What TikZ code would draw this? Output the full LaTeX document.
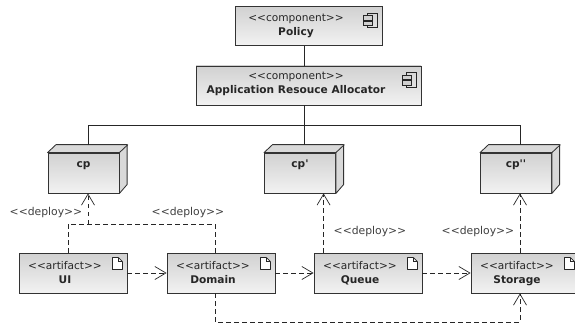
\documentclass[tikz,border=0pt]{standalone}
\usepackage{fontspec}
\setmainfont{DejaVu Sans}
\usepackage{tikz}
\usetikzlibrary{calc}
\usetikzlibrary{arrows.meta}
\usetikzlibrary{positioning}
\definecolor{boxtop}{gray}{0.82}
\definecolor{boxbot}{gray}{0.95}
\tikzstyle{umlbox}=[draw=black!80,line width=0.85pt,top color=boxtop,bottom color=boxbot,
                    minimum height=39pt,inner sep=0]
\tikzstyle{arti}=[umlbox,minimum width=108pt,minimum height=40pt]
\tikzstyle{cube}=[umlbox,minimum width=71pt,minimum height=40pt]
\tikzstyle{boxlabel}=[align=center,inner sep=0,text=black!85,font=\fontsize{10.6}{14}\selectfont]
\tikzstyle{dep}=[dash pattern=on 4.5pt off 3.5pt,line width=0.75pt,draw=black!85]
\tikzstyle{deparrow}=[dep,-{Straight Barb[length=11pt,width=13pt,line width=0.7pt]}]
\tikzstyle{wire}=[line width=0.75pt,draw=black!85]
\tikzstyle{deplabel}=[text=black!75,inner sep=0,font=\fontsize{10.8}{12}\selectfont]
\tikzstyle{icon}=[line width=0.7pt,draw=black!85]
\newcommand{\icomp}[1]{%
  \draw [icon] ($(#1.north east)+(-15,7)$) rectangle ++(10,14.5);
  \draw [icon,fill=boxtop] ($(#1.north east)+(-19,9.5)$) rectangle ++(9,4.5);
  \draw [icon,fill=boxtop] ($(#1.north east)+(-19,15)$) rectangle ++(9,4.5);
}
\newcommand{\iart}[1]{%
  \draw [icon,fill=white,line join=round] ($(#1.north east)+(-15,5)$) -- ++(6,0) -- ++(4,4) -- ++(0,8) -- ++(-10,0) -- cycle;
  \draw [icon] ($(#1.north east)+(-9,5)$) -- ++(0,4) -- ++(4,0);
}
\newcommand{\icube}[1]{%
  \draw [line width=0.85pt,draw=black!80,fill=black!15,line join=round] (#1.north west) -- ++(8.5,-8) -- ++(71,0) -- ++(0,40) -- (#1.south east) -- (#1.north east) -- cycle;
  \draw [line width=0.85pt,draw=black!80] (#1.north east) -- ++(8.5,-8);
}
\begin{document}
\begin{tikzpicture}[x=1pt,y=-1pt]
\useasboundingbox (0,0) rectangle (575,326);
\clip (0,0) rectangle (575,326);
\node [umlbox,minimum width=147pt] (policy) at (308.5,26) {};
\node [umlbox,minimum width=225pt] (alloc) at (308.5,85.5) {};
\node [cube] (cp) at (83.5,173) {};
\node [cube] (cpa) at (300,173) {};
\node [cube] (cpb) at (516,173) {};
\node [arti] (ui) at (73,273) {};
\node [arti] (domain) at (221,273) {};
\node [arti] (queue) at (368,273) {};
\node [arti] (storage) at (525,273) {};
\node [boxlabel] (policylabel) at ($(policy)+(-12.5,0.5)$) {<{}<component>{}>\\\textbf{Policy}\strut};
\node [boxlabel] (alloclabel) at ($(alloc)+(-12.5,-0.5)$) {<{}<component>{}>\\\textbf{Application Resouce Allocator}\strut};
\node [boxlabel,anchor=base] (cplabel) at ($(cp)+(0,-5.5)$) {\textbf{cp}};
\node [boxlabel,anchor=base] (cpalabel) at ($(cpa)+(0,-5.5)$) {\textbf{cp\textquotesingle}};
\node [boxlabel,anchor=base] (cpblabel) at ($(cpb)+(0,-5.5)$) {\textbf{cp\textquotesingle\textquotesingle}};
\node [boxlabel] (uilabel) at ($(ui)+(-8,2)$) {<{}<artifact>{}>\\\textbf{UI}\strut};
\node [boxlabel] (domainlabel) at ($(domain)+(-8,2)$) {<{}<artifact>{}>\\\textbf{Domain}\strut};
\node [boxlabel] (queuelabel) at ($(queue)+(-8,2)$) {<{}<artifact>{}>\\\textbf{Queue}\strut};
\node [boxlabel] (storagelabel) at ($(storage)+(-8,2)$) {<{}<artifact>{}>\\\textbf{Storage}\strut};
\icomp{policy}
\icomp{alloc}
\icube{cp}
\icube{cpa}
\icube{cpb}
\iart{ui}
\iart{domain}
\iart{queue}
\iart{storage}
\coordinate (B1) at (88,145);
\coordinate (B2) at (304,145);
\coordinate (B3) at (520,145);
\coordinate (T1) at (88,125);
\coordinate (T2) at (304,125);
\coordinate (T3) at (520,125);
\coordinate (J1) at (88,224);
\coordinate (D1) at ($(domain.north)+(-6,0)$);
\coordinate (D2) at ($(domain.south)+(-6,0)$);
\coordinate (Q1) at ($(queue.north west)+(10,0)$);
\draw [wire] (policy.south -| T2) -- (alloc.north -| T2);
\draw [wire] (alloc.south -| T2) -- (B2);
\draw [wire] (B1) -- (T1) -- (T3) -- (B3);
\draw [dep] ($(ui.north)+(-5,0)$) |- (J1);
\draw [dep] (D1) |- (J1);
\draw [deparrow] (J1) -- (cp.south -| J1);
\draw [deparrow] (Q1) -- (cpa.south -| Q1);
\draw [deparrow] (storage.north -| T3) -- (cpb.south -| T3);
\draw [deparrow] (D2) -- (215,322) -| (storage.south -| T3);
\draw [deparrow] (ui.east) -- (domain.west);
\draw [deparrow] (domain.east) -- (queue.west);
\draw [deparrow] (queue.east) -- (storage.west);
\node [deplabel] (d1) at (46,213) {<{}<deploy>{}>};
\node [deplabel] (d2) at (188,213) {<{}<deploy>{}>};
\node [deplabel] (d3) at (370,232) {<{}<deploy>{}>};
\node [deplabel] (d4) at (478,232) {<{}<deploy>{}>};
\end{tikzpicture}
\end{document}
